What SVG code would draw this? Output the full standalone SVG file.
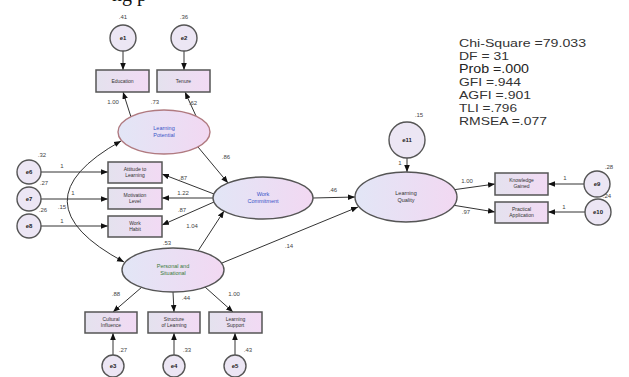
<svg xmlns="http://www.w3.org/2000/svg" width="629" height="377" viewBox="0 0 629 377">
<defs>
<linearGradient id="gE" x1="0" y1="0" x2="1" y2="0"><stop offset="0" stop-color="#e2e6f6"/><stop offset="1" stop-color="#f2d8f2"/></linearGradient>
<linearGradient id="gB" x1="0" y1="0" x2="1" y2="0"><stop offset="0" stop-color="#e4e2ee"/><stop offset="1" stop-color="#f2daf4"/></linearGradient>
<marker id="ah" viewBox="0 0 10 10" refX="10" refY="5" markerWidth="7" markerHeight="7" orient="auto-start-reverse" markerUnits="userSpaceOnUse"><path d="M0,1 L10,5 L0,9 z" fill="#111"/></marker>
<style>
.lat{fill:url(#gE);stroke:#555;stroke-width:1.4}
.obs{fill:url(#gB);stroke:#555;stroke-width:1.5}
.err{fill:#ece6f4;stroke:#555;stroke-width:1.4}
.c{fill:none;stroke:#333;stroke-width:1;marker-end:url(#ah)}
.t{font-family:"Liberation Sans",Arial,sans-serif;font-size:5px;fill:#333;text-anchor:middle}
.tb{font-family:"Liberation Sans",Arial,sans-serif;font-size:5.5px;fill:#3a55c8;text-anchor:middle}
.tg{font-family:"Liberation Sans",Arial,sans-serif;font-size:5.5px;fill:#3a7a3a;text-anchor:middle}
.et{font-family:"Liberation Sans",Arial,sans-serif;font-size:6px;fill:#222;text-anchor:middle;font-weight:bold}
.n{font-family:"Liberation Sans",Arial,sans-serif;font-size:6px;fill:#444;text-anchor:middle}
.fit{font-family:"Liberation Sans",Arial,sans-serif;font-size:11px;fill:#333}
</style>
</defs>
<rect width="629" height="377" fill="#fff"/>
<text x="112" y="1" font-family="Liberation Serif,serif" font-size="20" fill="#111">ng p</text>

<g id="connectors">
<line class="c" x1="123" y1="51" x2="123" y2="70"/>
<line class="c" x1="184" y1="51" x2="184" y2="70"/>
<line class="c" x1="131" y1="117" x2="123" y2="92"/>
<line class="c" x1="196" y1="116" x2="185" y2="92"/>
<line class="c" x1="198" y1="147" x2="228" y2="183"/>
<line class="c" x1="214" y1="194" x2="162" y2="174"/>
<line class="c" x1="213" y1="198" x2="162" y2="198"/>
<line class="c" x1="214" y1="202" x2="162" y2="225"/>
<line class="c" x1="40" y1="172" x2="108" y2="172"/>
<line class="c" x1="40" y1="199" x2="108" y2="199"/>
<line class="c" x1="40" y1="226" x2="108" y2="226"/>
<line class="c" x1="198" y1="251" x2="224" y2="211"/>
<path class="c" d="M121,141 Q12,202 124,262" style="marker-start:url(#ah)"/>
<line class="c" x1="142" y1="287" x2="113" y2="312"/>
<line class="c" x1="173" y1="292" x2="174" y2="312"/>
<line class="c" x1="205" y1="287" x2="233" y2="312"/>
<line class="c" x1="113" y1="355" x2="113" y2="333"/>
<line class="c" x1="174" y1="355" x2="174" y2="333"/>
<line class="c" x1="235" y1="355" x2="235" y2="333"/>
<line class="c" x1="313" y1="198" x2="355" y2="197"/>
<line class="c" x1="222" y1="263" x2="358" y2="207"/>
<line class="c" x1="407" y1="158" x2="407" y2="172"/>
<line class="c" x1="452" y1="190" x2="495" y2="184"/>
<line class="c" x1="452" y1="205" x2="495" y2="212"/>
<line class="c" x1="584" y1="184" x2="548" y2="184"/>
<line class="c" x1="585" y1="212" x2="548" y2="212"/>
</g>

<g id="labels">
<text class="n" x="123" y="19">.41</text>
<text class="n" x="184" y="19">.36</text>
<text class="n" x="113" y="104">1.00</text>
<text class="n" x="155" y="104">.73</text>
<text class="n" x="193" y="105">.62</text>
<text class="n" x="226" y="159">.86</text>
<text class="n" x="183" y="180">.87</text>
<text class="n" x="183" y="195">1.22</text>
<text class="n" x="182" y="212">.87</text>
<text class="n" x="192" y="228">1.04</text>
<text class="n" x="42" y="157">.32</text>
<text class="n" x="44" y="185">.27</text>
<text class="n" x="43" y="212">.26</text>
<text class="n" x="62" y="168">1</text>
<text class="n" x="73" y="195">1</text>
<text class="n" x="62" y="223">1</text>
<text class="n" x="62" y="209">.15</text>
<text class="n" x="167" y="245">.53</text>
<text class="n" x="116" y="296">.88</text>
<text class="n" x="186" y="300">.44</text>
<text class="n" x="234" y="296">1.00</text>
<text class="n" x="123" y="352">.27</text>
<text class="n" x="187" y="352">.33</text>
<text class="n" x="248" y="352">.43</text>
<text class="n" x="333" y="192">.46</text>
<text class="n" x="289" y="248">.14</text>
<text class="n" x="419" y="117">.15</text>
<text class="n" x="400" y="165">1</text>
<text class="n" x="467" y="183">1.00</text>
<text class="n" x="466" y="214">.97</text>
<text class="n" x="609" y="169">.28</text>
<text class="n" x="607" y="198">.24</text>
<text class="n" x="565" y="180">1</text>
<text class="n" x="564" y="209">1</text>
</g>

<g id="e1"><circle class="err" cx="123" cy="38" r="13"/><text class="et" x="123" y="40">e1</text></g>
<g id="e2"><circle class="err" cx="184" cy="38" r="13"/><text class="et" x="184" y="40">e2</text></g>
<g id="box1"><rect class="obs" x="96" y="70" width="53" height="22"/><text class="t" x="122.5" y="83">Education</text></g>
<g id="box2"><rect class="obs" x="157" y="70" width="53" height="22"/><text class="t" x="183.5" y="83">Tenure</text></g>
<g id="learning-potential"><ellipse class="lat" cx="164" cy="132" rx="46" ry="22" style="stroke:#b07a80"/><text class="tb" x="164" y="130">Learning</text><text class="tb" x="164" y="137">Potential</text></g>
<g id="e6"><circle class="err" cx="29" cy="172" r="12"/><text class="et" x="29" y="174">e6</text></g>
<g id="e7"><circle class="err" cx="29" cy="199" r="12"/><text class="et" x="29" y="201">e7</text></g>
<g id="e8"><circle class="err" cx="29" cy="226" r="12"/><text class="et" x="29" y="228">e8</text></g>
<g id="box3"><rect class="obs" x="108" y="162" width="54" height="21"/><text class="t" x="135" y="171">Attitude to</text><text class="t" x="135" y="177">Learning</text></g>
<g id="box4"><rect class="obs" x="108" y="188" width="54" height="21"/><text class="t" x="135" y="197">Motivation</text><text class="t" x="135" y="203">Level</text></g>
<g id="box5"><rect class="obs" x="108" y="216" width="54" height="21"/><text class="t" x="135" y="225">Work</text><text class="t" x="135" y="231">Habit</text></g>
<g id="work-commitment"><ellipse class="lat" cx="263" cy="198" rx="50" ry="21"/><text class="tb" x="263" y="196">Work</text><text class="tb" x="263" y="203">Commitment</text></g>
<g id="personal-situational"><ellipse class="lat" cx="173" cy="270" rx="51" ry="22"/><text class="tg" x="173" y="268">Personal and</text><text class="tg" x="173" y="275">Situational</text></g>
<g id="box6"><rect class="obs" x="85" y="312" width="52" height="21"/><text class="t" x="111" y="321">Cultural</text><text class="t" x="111" y="327">Influence</text></g>
<g id="box7"><rect class="obs" x="148" y="312" width="52" height="21"/><text class="t" x="174" y="321">Structure</text><text class="t" x="174" y="327">of Learning</text></g>
<g id="box8"><rect class="obs" x="209" y="312" width="53" height="21"/><text class="t" x="235.5" y="321">Learning</text><text class="t" x="235.5" y="327">Support</text></g>
<g id="e3"><circle class="err" cx="113" cy="366" r="11"/><text class="et" x="113" y="368">e3</text></g>
<g id="e4"><circle class="err" cx="174" cy="366" r="11"/><text class="et" x="174" y="368">e4</text></g>
<g id="e5"><circle class="err" cx="235" cy="366" r="11"/><text class="et" x="235" y="368">e5</text></g>
<g id="e11"><circle class="err" cx="407" cy="140" r="18"/><text class="et" x="407" y="142">e11</text></g>
<g id="learning-quality"><ellipse class="lat" cx="406" cy="197" rx="51" ry="25"/><text class="t" x="406" y="195" style="font-size:5.5px">Learning</text><text class="t" x="406" y="202" style="font-size:5.5px">Quality</text></g>
<g id="box9"><rect class="obs" x="495" y="173" width="53" height="22"/><text class="t" x="521.5" y="182">Knowledge</text><text class="t" x="521.5" y="188">Gained</text></g>
<g id="box10"><rect class="obs" x="495" y="202" width="53" height="21"/><text class="t" x="521.5" y="211">Practical</text><text class="t" x="521.5" y="217">Application</text></g>
<g id="e9"><circle class="err" cx="597" cy="184" r="13"/><text class="et" x="597" y="186">e9</text></g>
<g id="e10"><circle class="err" cx="598" cy="212" r="13"/><text class="et" x="598" y="214">e10</text></g>

<g id="fit-indices">
<text class="fit" x="459" y="47" textLength="127" lengthAdjust="spacingAndGlyphs">Chi-Square =79.033</text>
<text class="fit" x="459" y="60" textLength="50" lengthAdjust="spacingAndGlyphs">DF = 31</text>
<text class="fit" x="459" y="73" textLength="70" lengthAdjust="spacingAndGlyphs" style="font-size:12px;fill:#222">Prob =.000</text>
<text class="fit" x="459" y="86" textLength="62" lengthAdjust="spacingAndGlyphs">GFI =.944</text>
<text class="fit" x="459" y="99" textLength="72" lengthAdjust="spacingAndGlyphs">AGFI =.901</text>
<text class="fit" x="459" y="112" textLength="58" lengthAdjust="spacingAndGlyphs">TLI =.796</text>
<text class="fit" x="459" y="125" textLength="88" lengthAdjust="spacingAndGlyphs">RMSEA =.077</text>
</g>
</svg>
